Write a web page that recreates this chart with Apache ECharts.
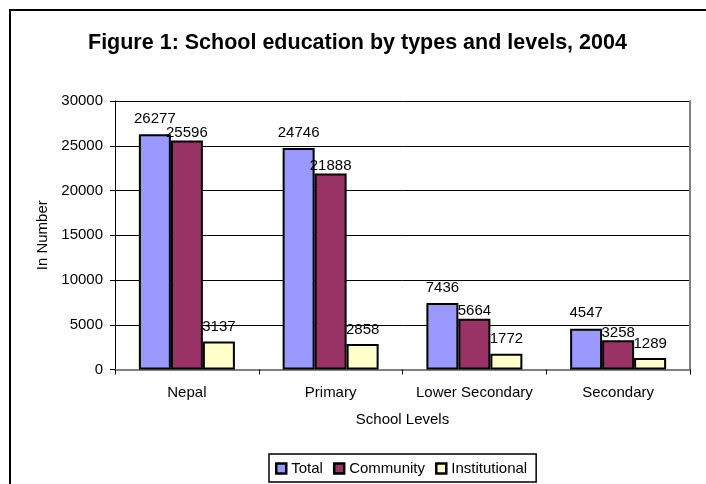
<!DOCTYPE html>
<html>
<head>
<meta charset="utf-8">
<script src="https://cdn.jsdelivr.net/npm/echarts@6/dist/echarts.min.js"></script>
<style>
html,body{margin:0;padding:0;background:#fff;}
#c{width:706px;height:484px;}
</style>
</head>
<body>
<div id="c"></div>
<script>
var categories = ['Nepal', 'Primary', 'Lower Secondary', 'Secondary'];
var totalValues = [26277, 24746, 7436, 4547];
var communityValues = [25596, 21888, 5664, 3258];
var institutionalValues = [3137, 2858, 1772, 1289];
var seriesNames = ['Total', 'Community', 'Institutional'];
var titleText = 'Figure 1: School education by types and levels, 2004';
var yAxisName = 'In Number';
var xAxisName = 'School Levels';

var FONT = '"Liberation Sans", Arial, sans-serif';
var chart = echarts.init(document.getElementById('c'));

function makeSeries(name, data, color, dist) {
  return {
    name: name,
    type: 'bar',
    data: data,
    xAxisIndex: 0,
    yAxisIndex: 0,
    barWidth: 32,
    barGap: '0%',
    itemStyle: { color: color, borderColor: '#000', borderWidth: 2 },
    label: {
      show: true, position: 'top', distance: dist,
      color: '#000', fontSize: 15, fontFamily: FONT
    },
    emphasis: { disabled: true }
  };
}

chart.setOption({
  animation: false,
  backgroundColor: '#fff',
  textStyle: { fontFamily: FONT },
  title: {
    text: titleText,
    left: 83,
    top: 27,
    textStyle: { fontSize: 21.5, fontWeight: 'bold', color: '#000', fontFamily: FONT }
  },
  graphic: [{
    type: 'rect',
    shape: { x: 10, y: 10, width: 720, height: 500 },
    style: { fill: 'none', stroke: '#000', lineWidth: 2 },
    silent: true
  }],
  grid: { left: 115, right: 16, top: 101, bottom: 114.5, show: false },
  legend: {
    data: seriesNames,
    left: 269,
    top: 454,
    padding: [7, 9, 6, 6],
    itemWidth: 10,
    itemHeight: 10,
    itemGap: 10,
    icon: 'rect',
    borderColor: '#000',
    borderWidth: 1.5,
    itemStyle: { borderColor: '#000', borderWidth: 2.5 },
    textStyle: { fontSize: 15, color: '#000', fontFamily: FONT }
  },
  xAxis: [{
    type: 'category',
    data: categories,
    name: xAxisName,
    nameLocation: 'middle',
    nameGap: 43,
    nameTextStyle: { fontSize: 15, color: '#000', fontFamily: FONT },
    axisLine: { lineStyle: { color: '#000', width: 1 } },
    axisTick: { show: true, length: 5, lineStyle: { color: '#000' } },
    axisLabel: { fontSize: 15, color: '#000', margin: 16, fontFamily: FONT, interval: 0 },
    splitLine: { show: false }
  }, {
    type: 'category',
    data: categories,
    position: 'top',
    axisLine: { lineStyle: { color: '#808080', width: 2 } },
    axisTick: { show: false },
    axisLabel: { show: false },
    splitLine: { show: false }
  }],
  yAxis: [{
    type: 'value',
    min: 0,
    max: 30000,
    interval: 5000,
    name: yAxisName,
    nameLocation: 'middle',
    nameGap: 64,
    nameTextStyle: { fontSize: 15, color: '#000', fontFamily: FONT },
    axisLine: { show: true, lineStyle: { color: '#000', width: 1 } },
    axisTick: { show: true, length: 5, lineStyle: { color: '#000' } },
    axisLabel: { fontSize: 15, color: '#000', margin: 12, fontFamily: FONT,
      formatter: function (v) { return String(v); } },
    splitLine: { show: true, lineStyle: { color: '#000', width: 1 } }
  }, {
    type: 'value',
    min: 0,
    max: 30000,
    interval: 5000,
    position: 'right',
    axisLine: { show: true, lineStyle: { color: '#808080', width: 2 } },
    axisTick: { show: false },
    axisLabel: { show: false },
    splitLine: { show: false }
  }],
  series: [
    makeSeries(seriesNames[0], totalValues, '#9999FF', 8),
    makeSeries(seriesNames[1], communityValues, '#993366', 0),
    makeSeries(seriesNames[2], institutionalValues, '#FFFFCC', 7)
  ]
});
</script>
</body>
</html>
